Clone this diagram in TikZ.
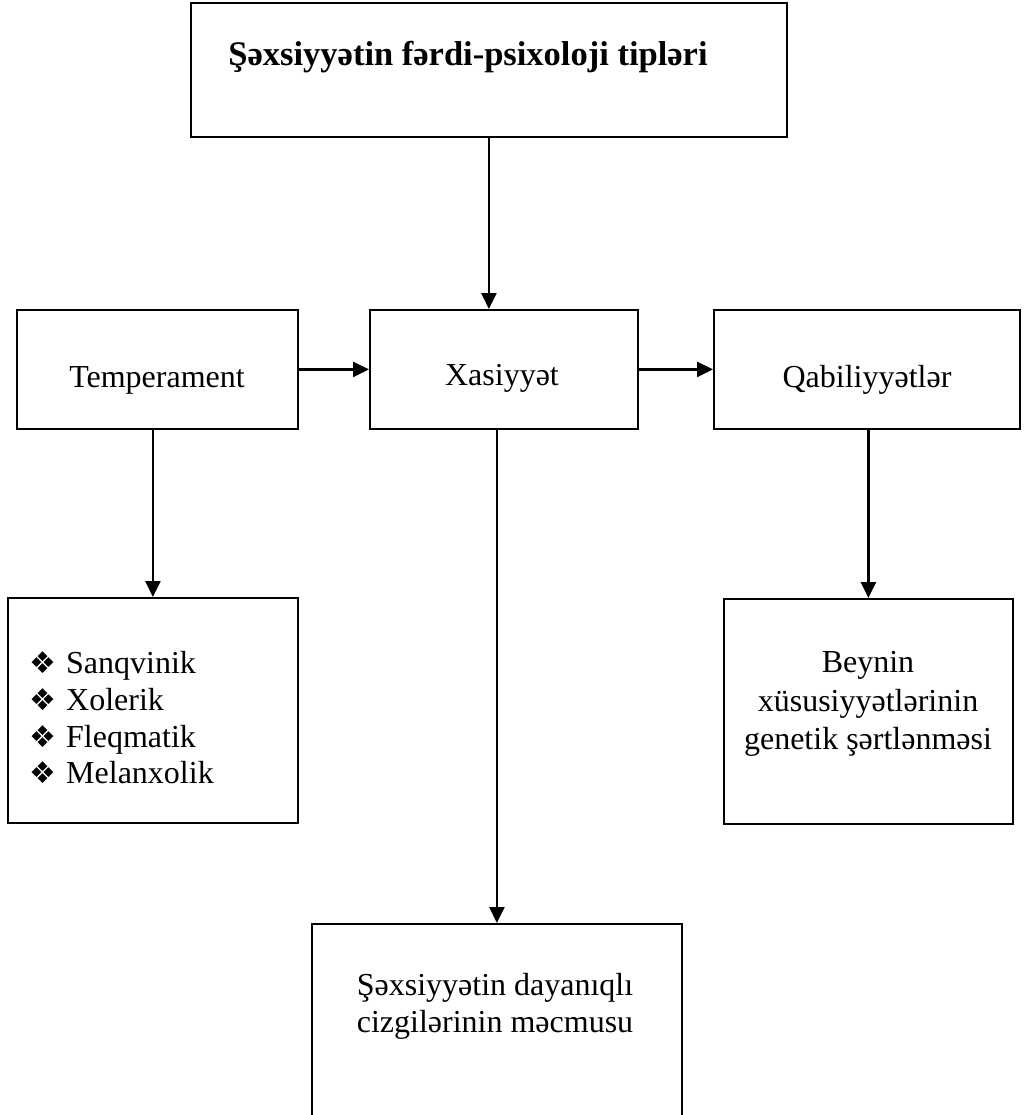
\documentclass[tikz,border=0pt]{standalone}
\usepackage{fontspec}
\setmainfont{Liberation Serif}
\newfontfamily\dingfont{DejaVu Sans}
\usetikzlibrary{arrows.meta}
\begin{document}
\begin{tikzpicture}[x=1pt,y=-1pt,
  box/.style={draw, line width=1.8pt, inner sep=0pt, anchor=north west},
  lbl/.style={font=\fontsize{32}{37}\selectfont, inner sep=0pt, anchor=base},
  itm/.style={lbl, anchor=base west},
  bul/.style={font=\dingfont\fontsize{30}{30}\selectfont, inner sep=0pt, anchor=center},
  arr/.style={line width=2.6pt, -{Triangle[length=16pt,width=15pt]}}]
\useasboundingbox (0,0) rectangle (1023,1115);
\clip (0,0) rectangle (1023,1115);
% boxes
\node[box, minimum width=596pt, minimum height=134pt] (top) at (190,2) {};
\node[box, minimum width=281pt, minimum height=119pt] (temp) at (16,309) {};
\node[box, minimum width=268pt, minimum height=119pt] (xas) at (369,309) {};
\node[box, minimum width=306pt, minimum height=119pt] (qab) at (713,309) {};
\node[box, minimum width=290pt, minimum height=225pt] (list) at (7,597) {};
\node[box, minimum width=289pt, minimum height=225pt] (bey) at (723,598) {};
\node[box, minimum width=370pt, minimum height=260pt] (bot) at (311,923) {};
% texts
\node[lbl, font=\bfseries\fontsize{34.5}{40}\selectfont] (title) at (468,66) {Şəxsiyyətin fərdi-psixoloji tipləri};
\node[lbl] (ttemp) at (157,387) {Temperament};
\node[lbl] (txas) at (502,385) {Xasiyyət};
\node[lbl] (tqab) at (867,387) {Qabiliyyətlər};
\node[bul] (d1) at (43,663) {❖};
\node[bul] (d2) at (43,700) {❖};
\node[bul] (d3) at (43,737) {❖};
\node[bul] (d4) at (43,773) {❖};
\node[itm] (l1) at (66,673) {Sanqvinik};
\node[itm] (l2) at (66,710) {Xolerik};
\node[itm] (l3) at (66,747) {Fleqmatik};
\node[itm] (l4) at (66,783) {Melanxolik};
\node[lbl] (b1) at (868,672) {Beynin};
\node[lbl] (b2) at (868,711) {xüsusiyyətlərinin};
\node[lbl] (b3) at (868,749) {genetik şərtlənməsi};
\node[lbl] (c1) at (495,995) {Şəxsiyyətin dayanıqlı};
\node[lbl] (c2) at (495,1032) {cizgilərinin məcmusu};
% arrows
\draw[arr] (top.south) -- (top.south |- xas.north);
\draw[arr] (temp.east) -- (temp.east -| xas.west);
\draw[arr] (xas.east) -- (xas.east -| qab.west);
\draw[arr] (temp.south -| list.north) -- (list.north);
\draw[arr] (qab.south -| bey.north) -- (bey.north);
\draw[arr] (xas.south -| bot.north) -- (bot.north);
\end{tikzpicture}
\end{document}
